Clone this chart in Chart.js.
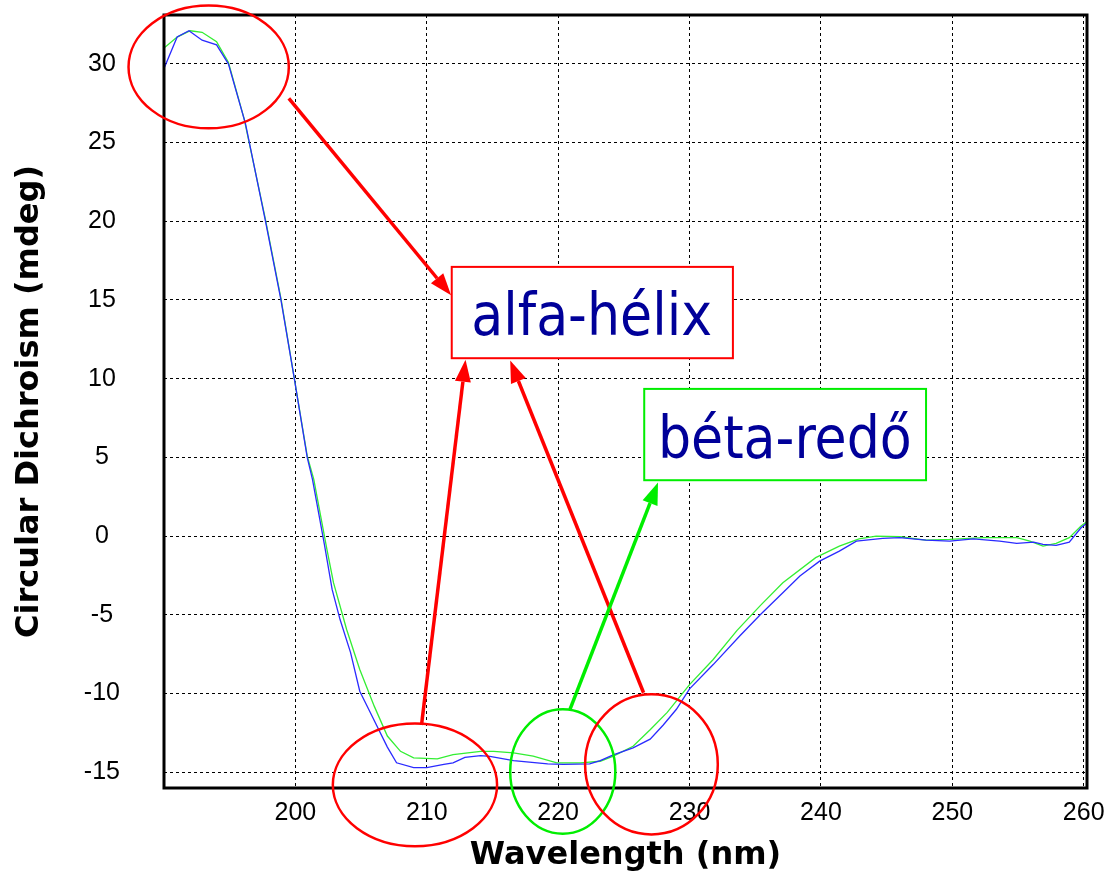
<!DOCTYPE html>
<html>
<head>
<meta charset="utf-8">
<script src="https://cdn.jsdelivr.net/npm/chart.js@4/dist/chart.umd.min.js"></script>
<style>
  html, body { margin: 0; padding: 0; background: #fff; }
  #wrap { width: 1106px; height: 872px; }
</style>
</head>
<body>
<div id="wrap"><canvas id="cdChart"></canvas></div>
<script>
// wavelength (nm) and CD (mdeg)
var blueWavelength = [190.0, 191.0, 191.9, 192.9, 194.0, 194.9, 196.2, 197.7, 198.9, 199.9, 200.9, 201.3, 202.2, 202.8, 203.4, 204.2, 204.9, 205.7, 207.0, 207.7, 209.0, 210.0, 211.3, 212.0, 212.9, 214.1, 214.8, 216.6, 219.2, 220.4, 222.4, 223.2, 224.2, 225.7, 227.0, 228.0, 229.0, 230.0, 231.8, 233.8, 235.4, 237.1, 238.4, 239.9, 241.4, 242.7, 244.7, 246.0, 248.0, 249.8, 251.6, 253.6, 254.9, 256.2, 256.9, 257.9, 258.9, 259.8, 260.2];
var blueCD = [29.7, 31.7, 32.1, 31.5, 31.2, 30.0, 26.2, 20.1, 15.0, 10.1, 5.0, 3.6, -0.5, -3.4, -5.3, -7.4, -9.85, -11.2, -13.4, -14.4, -14.7, -14.7, -14.5, -14.4, -14.05, -13.94, -13.99, -14.26, -14.47, -14.5, -14.47, -14.26, -13.9, -13.45, -12.9, -12.0, -11.0, -9.7, -8.16, -6.36, -4.98, -3.6, -2.54, -1.59, -0.95, -0.32, -0.15, -0.1, -0.25, -0.32, -0.17, -0.32, -0.46, -0.38, -0.53, -0.59, -0.38, 0.53, 0.8];

var greenWavelength = [190.0, 191.0, 192.0, 192.9, 194.0, 194.9, 196.1, 197.7, 198.9, 199.9, 200.9, 201.4, 202.4, 202.9, 203.9, 204.9, 206.0, 207.0, 208.0, 209.0, 210.8, 212.0, 214.1, 215.1, 216.6, 218.1, 219.9, 221.7, 223.2, 224.2, 225.7, 227.0, 228.3, 230.0, 231.8, 233.6, 235.4, 237.1, 239.6, 241.4, 242.9, 244.2, 246.0, 248.0, 249.8, 252.4, 254.9, 255.9, 256.9, 257.9, 258.9, 259.8, 260.2];
var greenCD = [31.0, 31.7, 32.1, 32.0, 31.4, 30.1, 26.5, 20.2, 15.1, 10.1, 5.1, 3.6, -0.85, -2.96, -5.93, -8.47, -10.8, -12.7, -13.67, -14.09, -14.15, -13.88, -13.67, -13.67, -13.77, -13.98, -14.4, -14.4, -14.3, -13.98, -13.35, -12.3, -11.2, -9.43, -7.84, -6.0, -4.4, -2.96, -1.37, -0.64, -0.17, 0.0, -0.04, -0.25, -0.21, -0.1, -0.1, -0.32, -0.64, -0.46, -0.1, 0.64, 0.9];

var xTicks = [200, 210, 220, 230, 240, 250, 260];
var yTicks = [-15, -10, -5, 0, 5, 10, 15, 20, 25, 30];

var labelTexts = ['alfa-hélix', 'béta-redő'];

function toPoints(xs, ys) {
    return xs.map(function (x, i) { return { x: x, y: ys[i] }; });
}

// annotations are placed in data units (nm, mdeg) and converted by the scales
var annotations = {
    ellipses: [
        { cx: 193.4, cy: 29.8, rx: 6.1, ry: 3.9, color: '#ff0000' },
        { cx: 209.1, cy: -15.8, rx: 6.25, ry: 3.9, color: '#ff0000' },
        { cx: 220.35, cy: -14.95, rx: 4.0, ry: 3.95, color: '#00ee00' },
        { cx: 227.1, cy: -14.5, rx: 5.05, ry: 4.45, color: '#ff0000' }
    ],
    boxes: [
        { x1: 211.9, y1: 17.1, x2: 233.3, y2: 11.3, color: '#ff0000', text: 0, tx: 222.55, ty: 12.75 },
        { x1: 226.55, y1: 9.35, x2: 248.0, y2: 3.55, color: '#00ee00', text: 1, tx: 237.25, ty: 4.98 }
    ],
    arrows: [
        { x1: 199.5, y1: 27.8, x2: 211.85, y2: 15.3, color: '#ff0000' },
        { x1: 209.6, y1: -12.0, x2: 212.95, y2: 11.2, color: '#ff0000' },
        { x1: 226.5, y1: -9.95, x2: 216.35, y2: 11.15, color: '#ff0000' },
        { x1: 220.9, y1: -11.0, x2: 227.6, y2: 3.4, color: '#00ee00' }
    ]
};

var frameAndNotes = {
    id: 'frameAndNotes',
    afterDatasetsDraw: function (chart) {
        var ctx = chart.ctx;
        var xs = chart.scales.x, ys = chart.scales.y;
        var a = chart.chartArea;
        ctx.save();

        // plot frame
        ctx.strokeStyle = '#000';
        ctx.lineWidth = 3;
        ctx.strokeRect(a.left, a.top, a.right - a.left, a.bottom - a.top);

        // ellipses
        ctx.lineWidth = 2.5;
        annotations.ellipses.forEach(function (e) {
            var cx = xs.getPixelForValue(e.cx), cy = ys.getPixelForValue(e.cy);
            var rx = Math.abs(xs.getPixelForValue(e.cx + e.rx) - cx);
            var ry = Math.abs(ys.getPixelForValue(e.cy + e.ry) - cy);
            ctx.strokeStyle = e.color;
            ctx.beginPath();
            ctx.ellipse(cx, cy, rx, ry, 0, 0, Math.PI * 2);
            ctx.stroke();
        });

        // boxes with labels
        annotations.boxes.forEach(function (b) {
            var x1 = xs.getPixelForValue(b.x1), y1 = ys.getPixelForValue(b.y1);
            var x2 = xs.getPixelForValue(b.x2), y2 = ys.getPixelForValue(b.y2);
            ctx.fillStyle = '#fff';
            ctx.fillRect(x1, y1, x2 - x1, y2 - y1);
            ctx.strokeStyle = b.color;
            ctx.lineWidth = 2;
            ctx.strokeRect(x1, y1, x2 - x1, y2 - y1);
            ctx.fillStyle = '#000099';
            ctx.font = '58px "DejaVu Sans Condensed", "DejaVu Sans", sans-serif';
            ctx.textAlign = 'center';
            ctx.textBaseline = 'alphabetic';
            ctx.fillText(labelTexts[b.text], xs.getPixelForValue(b.tx), ys.getPixelForValue(b.ty));
        });

        // arrows
        annotations.arrows.forEach(function (r) {
            var x1 = xs.getPixelForValue(r.x1), y1 = ys.getPixelForValue(r.y1);
            var x2 = xs.getPixelForValue(r.x2), y2 = ys.getPixelForValue(r.y2);
            var ang = Math.atan2(y2 - y1, x2 - x1);
            var headLen = 22, headW = 8;
            var bx = x2 - headLen * Math.cos(ang), by = y2 - headLen * Math.sin(ang);
            ctx.strokeStyle = r.color;
            ctx.fillStyle = r.color;
            ctx.lineWidth = 3.5;
            ctx.beginPath();
            ctx.moveTo(x1, y1);
            ctx.lineTo(bx, by);
            ctx.stroke();
            ctx.beginPath();
            ctx.moveTo(x2, y2);
            ctx.lineTo(bx + headW * Math.sin(ang), by - headW * Math.cos(ang));
            ctx.lineTo(bx - headW * Math.sin(ang), by + headW * Math.cos(ang));
            ctx.closePath();
            ctx.fill();
        });
        ctx.restore();
    }
};

var ctx1 = document.getElementById('cdChart').getContext('2d');
var cdChart = new Chart(ctx1, {
    type: 'line',
    data: {
        datasets: [
            {
                label: 'blue',
                data: toPoints(blueWavelength, blueCD),
                borderColor: '#2a2aff',
                borderWidth: 1.3,
                pointRadius: 0,
                fill: false,
                tension: 0
            },
            {
                label: 'green',
                data: toPoints(greenWavelength, greenCD),
                borderColor: '#33ee33',
                borderWidth: 1.3,
                pointRadius: 0,
                fill: false,
                tension: 0
            }
        ]
    },
    options: {
        responsive: true,
        maintainAspectRatio: false,
        animation: false,
        layout: { padding: { left: 0, right: 19, top: 15, bottom: 0 } },
        plugins: {
            legend: { display: false },
            tooltip: { enabled: false }
        },
        scales: {
            x: {
                type: 'linear',
                min: 190,
                max: 260.25,
                afterBuildTicks: function (axis) {
                    axis.ticks = xTicks.map(function (v) { return { value: v }; });
                },
                afterFit: function (axis) {
                    axis.height = 84;
                    axis.paddingLeft = 0;
                    axis.paddingRight = 0;
                },
                grid: {
                    color: '#000',
                    lineWidth: 1,
                    drawTicks: false
                },
                border: { display: false, dash: [3, 3] },
                ticks: {
                    color: '#000',
                    padding: 10,
                    font: { family: '"Liberation Sans", Arial, sans-serif', size: 25 }
                },
                title: {
                    display: true,
                    text: 'Wavelength (nm)',
                    color: '#000',
                    font: { family: '"DejaVu Sans", sans-serif', size: 32, weight: 'bold', lineHeight: 1 },
                    padding: { top: 0, bottom: 0 }
                }
            },
            y: {
                type: 'linear',
                min: -16,
                max: 33.1,
                afterBuildTicks: function (axis) {
                    axis.ticks = yTicks.map(function (v) { return { value: v }; });
                },
                afterFit: function (axis) {
                    axis.width = 164;
                    axis.paddingTop = 0;
                    axis.paddingBottom = 0;
                },
                grid: {
                    color: '#000',
                    lineWidth: 1,
                    drawTicks: false
                },
                border: { display: false, dash: [3, 3] },
                ticks: {
                    color: '#000',
                    padding: 44,
                    crossAlign: 'center',
                    font: { family: '"Liberation Sans", Arial, sans-serif', size: 25 }
                },
                title: {
                    display: true,
                    text: 'Circular Dichroism (mdeg)',
                    color: '#000',
                    font: { family: '"DejaVu Sans", sans-serif', size: 32, weight: 'bold', lineHeight: 1 },
                    padding: { top: 14, bottom: 0 }
                }
            }
        }
    },
    plugins: [frameAndNotes]
});
</script>
</body>
</html>
